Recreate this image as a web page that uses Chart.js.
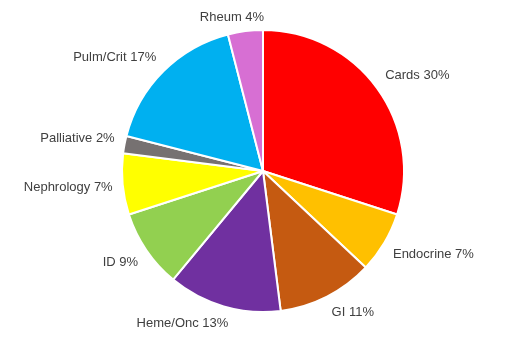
<!DOCTYPE html>
<html>
<head>
<meta charset="utf-8">
<script src="https://cdn.jsdelivr.net/npm/chart.js@4/dist/chart.umd.min.js"></script>
<style>
  html, body { margin: 0; padding: 0; background: #fff; }
  #wrap { width: 518px; height: 343px; position: relative; }
</style>
</head>
<body>
<div id="wrap"><canvas id="pieChart" width="518" height="343"></canvas></div>
<script>
const labels = ["Cards", "Endocrine", "GI", "Heme/Onc", "ID", "Nephrology", "Palliative", "Pulm/Crit", "Rheum"];
const shares = [30, 7, 11, 13, 9, 7, 2, 17, 4];
const colors = ["#FF0000", "#FFC000", "#C55A11", "#7030A0", "#92D050", "#FFFF00", "#767171", "#00B0F0", "#D76FD3"];

// etiquetas fora da pizza: "Nome xx%"
const outsideLabels = {
  id: "outsideLabels",
  afterDatasetsDraw(chart) {
    const ctx = chart.ctx;
    const meta = chart.getDatasetMeta(0);
    const data = chart.data.datasets[0].data;
    const total = data.reduce((a, b) => a + b, 0);
    const clamp = v => Math.max(-1, Math.min(1, v));
    ctx.save();
    ctx.font = "13px 'Liberation Sans', Arial, sans-serif";
    ctx.fillStyle = "#404040";
    ctx.textAlign = "center";
    ctx.textBaseline = "middle";
    meta.data.forEach((arc, i) => {
      const p = arc.getProps(["x", "y", "startAngle", "endAngle", "outerRadius"], true);
      const mid = (p.startAngle + p.endAngle) / 2;
      const txt = chart.data.labels[i] + " " + Math.round(data[i] / total * 100) + "%";
      const w = ctx.measureText(txt).width;
      const h = 14;
      const r = p.outerRadius + 10;
      const ax = p.x + Math.cos(mid) * r;
      const ay = p.y + Math.sin(mid) * r;
      const cx = ax + clamp(Math.cos(mid) * 3) * w / 2;
      const cy = Math.max(h / 2 + 10, ay + clamp(Math.sin(mid) * 3) * h / 2);
      ctx.fillText(txt, cx, cy);
    });
    ctx.restore();
  }
};

new Chart(document.getElementById("pieChart").getContext("2d"), {
  type: "pie",
  data: {
    labels,
    datasets: [{
      data: shares,
      backgroundColor: colors,
      borderColor: "#FFFFFF",
      borderWidth: 2
    }]
  },
  options: {
    responsive: false,
    animation: false,
    layout: { padding: { top: 29, bottom: 30, left: 121, right: 113 } },
    plugins: {
      legend: { display: false },
      tooltip: { enabled: false }
    }
  },
  plugins: [outsideLabels]
});
</script>
</body>
</html>
